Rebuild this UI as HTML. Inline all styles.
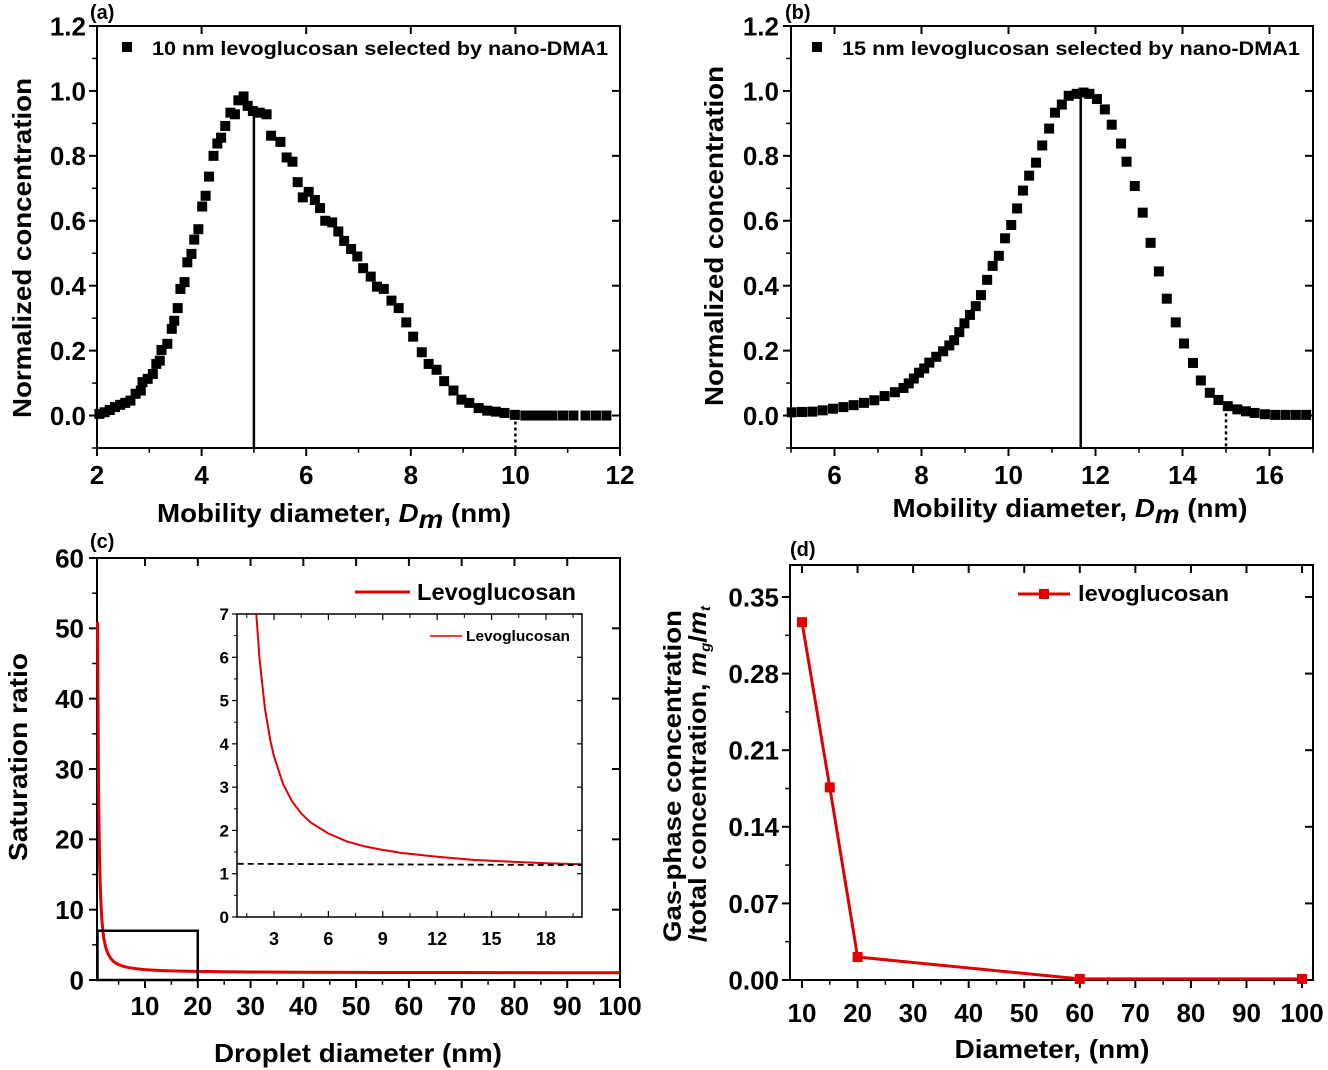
<!DOCTYPE html>
<html><head><meta charset="utf-8"><style>
html,body{margin:0;padding:0;background:#fff;}
svg{display:block;font-family:"Liberation Sans",Arial,sans-serif;}
text{font-weight:bold;}
</style></head><body>
<svg id="fig" width="1328" height="1070" viewBox="0 0 1328 1070" xmlns="http://www.w3.org/2000/svg"></svg>
<script>
// ---- data ----
const aX=[2.046,2.145,2.244,2.343,2.442,2.541,2.639,2.738,2.837,2.870,2.969,3.068,3.134,3.200,3.233,3.345,3.430,3.477,3.543,3.595,3.674,3.727,3.806,3.859,3.938,4.011,4.077,4.142,4.228,4.301,4.373,4.452,4.551,4.637,4.703,4.802,4.881,4.980,5.111,5.243,5.329,5.507,5.626,5.738,5.837,5.935,6.047,6.166,6.265,6.364,6.496,6.614,6.726,6.858,6.977,7.089,7.234,7.353,7.484,7.630,7.768,7.913,8.045,8.210,8.341,8.493,8.638,8.816,8.968,9.119,9.297,9.462,9.627,9.792,9.990,10.19,10.35,10.52,10.71,10.91,11.11,11.34,11.54,11.74];
const aY=[0.005,0.010,0.017,0.026,0.033,0.039,0.046,0.067,0.077,0.103,0.113,0.128,0.159,0.169,0.202,0.221,0.267,0.292,0.331,0.390,0.411,0.472,0.498,0.542,0.574,0.644,0.677,0.736,0.800,0.838,0.856,0.892,0.933,0.928,0.971,0.983,0.954,0.938,0.933,0.928,0.862,0.843,0.795,0.782,0.719,0.672,0.689,0.664,0.639,0.600,0.595,0.567,0.538,0.513,0.490,0.454,0.428,0.397,0.390,0.354,0.331,0.287,0.243,0.195,0.159,0.141,0.106,0.077,0.049,0.039,0.023,0.015,0.012,0.008,0.002,0,0,0,0,0,0,0,0,0];
const bX=[5.016,5.253,5.491,5.728,5.965,6.203,6.440,6.677,6.915,7.152,7.389,7.587,7.706,7.824,7.943,8.062,8.180,8.339,8.497,8.639,8.750,8.869,8.987,9.114,9.248,9.367,9.509,9.636,9.778,9.921,10.063,10.198,10.332,10.475,10.633,10.775,10.934,11.068,11.226,11.384,11.566,11.725,11.859,12.033,12.215,12.373,12.587,12.714,12.903,13.085,13.267,13.457,13.639,13.845,14.035,14.241,14.422,14.628,14.826,15.040,15.261,15.459,15.657,15.894,16.131,16.369,16.606,16.843];
const bY=[0.010,0.011,0.012,0.016,0.021,0.026,0.032,0.039,0.047,0.060,0.072,0.085,0.099,0.114,0.132,0.145,0.163,0.181,0.198,0.216,0.232,0.257,0.284,0.310,0.337,0.371,0.418,0.461,0.492,0.546,0.587,0.638,0.693,0.739,0.779,0.832,0.884,0.933,0.958,0.985,0.991,0.995,0.991,0.975,0.943,0.896,0.838,0.782,0.707,0.625,0.532,0.444,0.360,0.287,0.222,0.162,0.108,0.070,0.048,0.029,0.019,0.013,0.008,0.004,0.002,0.002,0.002,0.002];
const aPeak=5.0, aSel=10.0, bPeak=11.66, bSel=15.0;
const cD=[1,1.2,1.4,1.6,1.8,2,2.2,2.5,2.8,3,3.5,4,4.5,5,6,7,8,9,10,12,14,16,18,20,25,30,40,50,60,70,80,90,100];
const cS=[50.9,26.4,16.6,11.66,8.88,7.13,5.97,4.82,4.07,3.71,3.07,2.67,2.39,2.19,1.93,1.75,1.63,1.55,1.48,1.39,1.32,1.28,1.24,1.22,1.17,1.14,1.10,1.08,1.07,1.06,1.05,1.045,1.04];
const cRefD=[1,20];
const cRefS=[1.23,1.20];
const dD=[10,15,20,60,100];
const dV=[0.327,0.176,0.021,0.001,0.001];
const aXTicks=[2,4,6,8,10,12];
const abYTicks=["0.0","0.2","0.4","0.6","0.8","1.0","1.2"];
const bXTicks=[6,8,10,12,14,16];
const cXTicks=[10,20,30,40,50,60,70,80,90,100];
const cYTicks=[0,10,20,30,40,50,60];
const insXTicks=[3,6,9,12,15,18];
const insYTicks=[0,1,2,3,4,5,6,7];
const dXTicks=[10,20,30,40,50,60,70,80,90,100];
const dYTicks=["0.00","0.07","0.14","0.21","0.28","0.35"];

const NS='http://www.w3.org/2000/svg';
const svg=document.getElementById('fig');
function el(tag,attrs,parent){const e=document.createElementNS(NS,tag);for(const k in attrs)e.setAttribute(k,attrs[k]);(parent||svg).appendChild(e);return e;}
function lin(d0,d1,p0,p1){return v=>p0+(v-d0)*(p1-p0)/(d1-d0);}
function txt(x,y,s,size,anchor,parent){const t=el('text',{x:x,y:y,'font-size':size,'text-anchor':anchor||'middle'},parent);t.textContent=s;return t;}
function fit(t,len){t.setAttribute('textLength',len);t.setAttribute('lengthAdjust','spacingAndGlyphs');}

function frame(g,L,T,R,B,sw){
  const r=el('rect',{x:L,y:T,width:R-L,height:B-T,fill:'none',stroke:'#000','stroke-width':sw||2},g);
  
  
}
function xticks(g,X,vals,minor,T,B,labY,size,len){
  len=len||8;
  vals.forEach(v=>{const x=X(v);
    el('line',{x1:x,x2:x,y1:B,y2:B+len,stroke:'#000','stroke-width':2},g);
    el('line',{x1:x,x2:x,y1:T,y2:T+len,stroke:'#000','stroke-width':2},g);
    const t=txt(x,labY,String(v),size,'middle',g);
    
    
  });
  minor.forEach(v=>{const x=X(v);
    el('line',{x1:x,x2:x,y1:B,y2:B+len*0.6,stroke:'#000','stroke-width':1.5},g);});
}
function yticks(g,Y,vals,labels,minor,L,R,labX,size,len){
  len=len||8;
  vals.forEach((v,i)=>{const y=Y(v);
    el('line',{x1:L-len,x2:L,y1:y,y2:y,stroke:'#000','stroke-width':2},g);
    el('line',{x1:R-len,x2:R,y1:y,y2:y,stroke:'#000','stroke-width':2},g);
    const t=txt(labX,y+size*0.36,labels[i],size,'end',g);
    
    
  });
  minor.forEach(v=>{const y=Y(v);
    el('line',{x1:L-len*0.6,x2:L,y1:y,y2:y,stroke:'#000','stroke-width':1.5},g);});
}
function squares(g,X,Y,xs,ys,sz,fill){
  xs.forEach((x,i)=>{
    const s=el('rect',{x:X(x)-sz/2,y:Y(ys[i])-sz/2,width:sz,height:sz,fill:fill},g);
    
    
  });
}
function poly(g,X,Y,xs,ys,attrs){
  return el('polyline',Object.assign({points:xs.map((x,i)=>X(x).toFixed(1)+','+Y(ys[i]).toFixed(1)).join(' '),fill:'none'},attrs),g);
}
function ytitle(g,x,y,s,size){
  const t=el('text',{transform:`translate(${x},${y}) rotate(-90)`,'font-size':size,'text-anchor':'middle'},g);
  t.textContent=s;
  return t;
}
const TS=26;

// ===== Panel (a) =====
(function(){
  const g=el('g',{});
  
  
  const X=lin(2,12,97,620), Y=lin(-0.1,1.2,448,26);
  frame(g,97,26,620,448);
  xticks(g,X,aXTicks,[3,5,7,9,11],26,448,484,TS);
  yticks(g,Y,abYTicks.map(Number),abYTicks,[-0.1,0.1,0.3,0.5,0.7,0.9,1.1],97,620,86,TS);
  squares(g,X,Y,aX,aY,10,'#000');
  const pk=el('line',{x1:X(aPeak),x2:X(aPeak),y1:Y(0.935),y2:448,stroke:'#000','stroke-width':2.5},g);
  
  
  const sl=el('line',{x1:X(aSel),x2:X(aSel),y1:Y(0),y2:448,stroke:'#000','stroke-width':2.5,'stroke-dasharray':'3,3'},g);
  
  
  const lab=txt(90,19,'(a)',20,'start',g);
  
  
  const lm=el('rect',{x:122,y:42,width:10,height:10,fill:'#000'},g);
  
  
  const lt=txt(152,55,'10 nm levoglucosan selected by nano-DMA1',19,'start',g);
  fit(lt,456);
  
  
  const xt=el('text',{x:334,y:522,'font-size':26,'text-anchor':'middle'},g);
  xt.innerHTML='Mobility diameter, <tspan font-style="italic">D</tspan><tspan font-style="italic" dy="6">m</tspan><tspan dy="-6"> (nm)</tspan>';
  fit(xt,354);
  
  
  const yt=ytitle(g,31,248,'Normalized concentration',26);
  fit(yt,340);
  
  
})();

// ===== Panel (b) =====
(function(){
  const g=el('g',{});
  
  
  const X=lin(5,17,791,1313), Y=lin(-0.1,1.2,448,26);
  frame(g,791,26,1313,448);
  xticks(g,X,bXTicks,[5,7,9,11,13,15,17],26,448,484,TS);
  yticks(g,Y,abYTicks.map(Number),abYTicks,[-0.1,0.1,0.3,0.5,0.7,0.9,1.1],791,1313,779,TS);
  squares(g,X,Y,bX,bY,10,'#000');
  const pk=el('line',{x1:X(bPeak),x2:X(bPeak),y1:Y(0.99),y2:448,stroke:'#000','stroke-width':2.5},g);
  
  
  const sl=el('line',{x1:X(bSel),x2:X(bSel),y1:Y(0.025),y2:448,stroke:'#000','stroke-width':2.5,'stroke-dasharray':'3,3'},g);
  
  
  const lab=txt(785,19,'(b)',20,'start',g);
  
  
  const lm=el('rect',{x:812,y:42,width:10,height:10,fill:'#000'},g);
  
  
  const lt=txt(842,55,'15 nm levoglucosan selected by nano-DMA1',19,'start',g);
  fit(lt,458);
  
  
  const xt=el('text',{x:1070,y:517,'font-size':26,'text-anchor':'middle'},g);
  xt.innerHTML='Mobility diameter, <tspan font-style="italic">D</tspan><tspan font-style="italic" dy="6">m</tspan><tspan dy="-6"> (nm)</tspan>';
  fit(xt,355);
  
  
  const yt=ytitle(g,723,236,'Normalized concentration',26);
  fit(yt,340);
  
  
})();

// ===== Panel (c) =====
(function(){
  const g=el('g',{});
  
  
  const X=v=>145+(v-10)*5.278, Y=lin(0,60,980,558);
  frame(g,97,558,620,980);
  xticks(g,X,cXTicks,[5,15,25,35,45,55,65,75,85,95],558,980,1015,TS);
  yticks(g,Y,cYTicks,cYTicks.map(String),[5,15,25,35,45,55],97,620,84,TS);
  const ln=poly(g,X,Y,cD,cS,{stroke:'#e00000','stroke-width':3});
  
  
  const zb=el('rect',{x:X(1),y:Y(7),width:X(20)-X(1),height:Y(0)-Y(7),fill:'none',stroke:'#000','stroke-width':2.5},g);
  
  
  const lab=txt(90,548,'(c)',20,'start',g);
  
  
  const ll=el('line',{x1:355,x2:410,y1:592,y2:592,stroke:'#e00000','stroke-width':3},g);
  
  
  const lt=txt(417,600,'Levoglucosan',23,'start',g);
  fit(lt,159);
  
  
  const xt=txt(358,1062,'Droplet diameter (nm)',26,'middle',g);
  fit(xt,288);
  
  
  const yt=ytitle(g,27,757,'Saturation ratio',26);
  fit(yt,208);
  
  

  // inset
  const ig=el('g',{},g);
  
  
  const IX=v=>274+(v-3)*18.13, IY=lin(0,7,917,614);
  const clip=el('clipPath',{id:'insclip'},ig);
  el('rect',{x:237,y:614,width:345,height:303},clip);
  frame(ig,237,614,582,917,1.5);
  insXTicks.forEach(v=>{const x=IX(v);
    el('line',{x1:x,x2:x,y1:917,y2:911,stroke:'#000','stroke-width':1.2},ig);
    el('line',{x1:x,x2:x,y1:614,y2:620,stroke:'#000','stroke-width':1.2},ig);
    const t=txt(x,945,String(v),18,'middle',ig);
    
    });
  [1.5,4.5,7.5,10.5,13.5,16.5,19.5].forEach(v=>{const x=IX(v);
    el('line',{x1:x,x2:x,y1:917,y2:913,stroke:'#000','stroke-width':1},ig);
    el('line',{x1:x,x2:x,y1:614,y2:618,stroke:'#000','stroke-width':1},ig);});
  insYTicks.forEach(v=>{const y=IY(v);
    el('line',{x1:232,x2:237,y1:y,y2:y,stroke:'#000','stroke-width':1.2},ig);
    el('line',{x1:577,x2:582,y1:y,y2:y,stroke:'#000','stroke-width':1.2},ig);
    const t=txt(229,y+6,String(v),17,'end',ig);
    
    });
  [0.5,1.5,2.5,3.5,4.5,5.5,6.5].forEach(v=>{const y=IY(v);
    el('line',{x1:234,x2:237,y1:y,y2:y,stroke:'#000','stroke-width':1},ig);});
  const ic=poly(ig,IX,IY,cD,cS,{stroke:'#e00000','stroke-width':2,'clip-path':'url(#insclip)'});
  
  
  const rf=poly(ig,IX,IY,cRefD,cRefS,{stroke:'#000','stroke-width':1.8,'stroke-dasharray':'6,4'});
  
  
  const il=el('line',{x1:430,x2:462,y1:636,y2:636,stroke:'#e00000','stroke-width':1.5},ig);
  
  
  const it=txt(466,641,'Levoglucosan',15,'start',ig);
  fit(it,104);
  
  
})();

// ===== Panel (d) =====
(function(){
  const g=el('g',{});
  
  
  const X=v=>802+(v-10)*5.556, Y=lin(0,0.35,980,597);
  frame(g,790,565,1313,980);
  xticks(g,X,dXTicks,[15,25,35,45,55,65,75,85,95],565,980,1022,TS);
  yticks(g,Y,dYTicks.map(Number),dYTicks,[0.035,0.105,0.175,0.245,0.315],790,1313,779,TS);
  const ln=poly(g,X,Y,dD,dV,{stroke:'#e00000','stroke-width':3});
  
  
  squares(g,X,Y,dD,dV,10,'#e00000');
  const lab=txt(790,556,'(d)',20,'start',g);
  
  
  const ll=el('line',{x1:1018,x2:1070,y1:594,y2:594,stroke:'#e00000','stroke-width':3},g);
  
  
  const lm=el('rect',{x:1039,y:589,width:10,height:10,fill:'#e00000'},g);
  
  
  const lt=txt(1078,601,'levoglucosan',22,'start',g);
  fit(lt,151);
  
  
  const xt=txt(1052,1058,'Diameter, (nm)',26,'middle',g);
  fit(xt,195);
  
  
  const y1=ytitle(g,681,776,'Gas-phase concentration',25);
  fit(y1,332);
  
  
  const y2=el('text',{transform:'translate(706,774) rotate(-90)','font-size':25,'text-anchor':'middle'},g);
  y2.innerHTML='/total concentration, <tspan font-style="italic">m</tspan><tspan font-style="italic" font-size="14" dy="4">g</tspan><tspan dy="-4">/</tspan><tspan font-style="italic">m</tspan><tspan font-style="italic" font-size="14" dy="4">t</tspan>';
  fit(y2,336);
  
  
})();
</script>
</body></html>
